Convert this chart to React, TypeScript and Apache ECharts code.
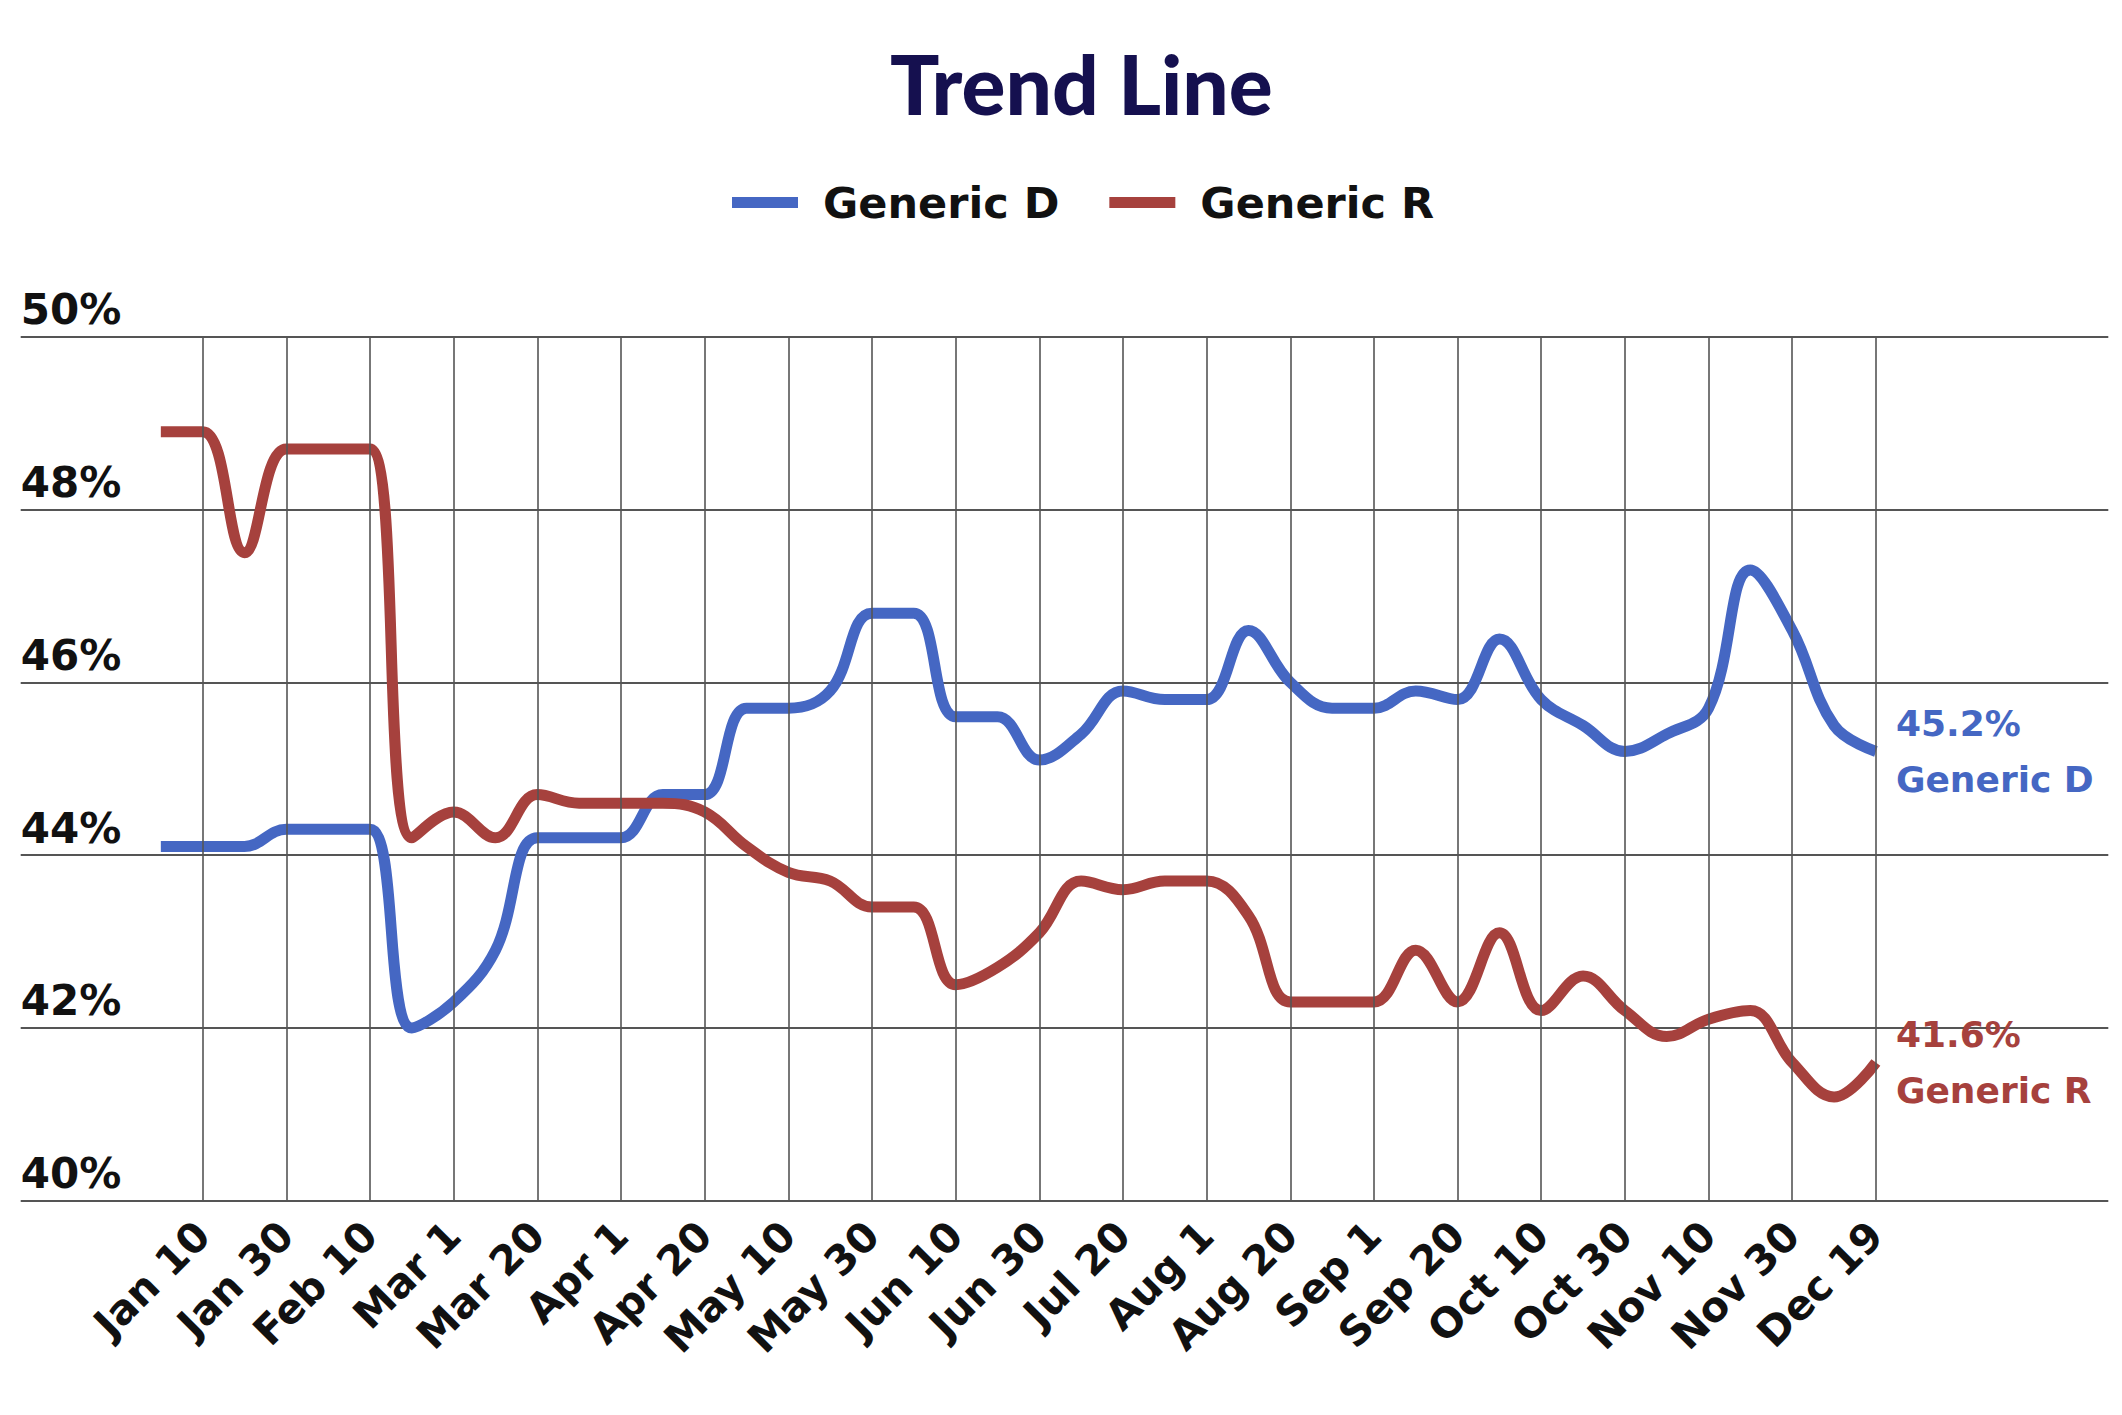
import { useEffect, useRef } from "react";
import * as echarts from "echarts";

const tickLabels = [
  "Jan 10", "Jan 30", "Feb 10", "Mar 1", "Mar 20", "Apr 1", "Apr 20",
  "May 10", "May 30", "Jun 10", "Jun 30", "Jul 20", "Aug 1", "Aug 20",
  "Sep 1", "Sep 20", "Oct 10", "Oct 30", "Nov 10", "Nov 30", "Dec 19",
];
const tickPositions = [0, 1, 2, 3, 4, 5, 6, 7, 8, 9, 10, 11, 12, 13, 14, 15, 16, 17, 18, 19, 20];

const samplePositions = [
  -0.5, 0, 0.5, 1, 1.5, 2, 2.5, 3, 3.5, 4, 4.5, 5, 5.5, 6, 6.5, 7, 7.5, 8, 8.5, 9, 9.5,
  10, 10.5, 11, 11.5, 12, 12.5, 13, 13.5, 14, 14.5, 15, 15.5, 16, 16.5, 17, 17.5, 18, 18.5, 19, 19.5, 20,
];

const genericD = [
  44.1, 44.1, 44.1, 44.3, 44.3, 44.3, 42.0, 42.3, 42.9, 44.2, 44.2, 44.2, 44.7, 44.7, 45.7, 45.7, 45.9, 46.8, 46.8, 45.6, 45.6,
  45.1, 45.4, 45.9, 45.8, 45.8, 46.6, 46.0, 45.7, 45.7, 45.9, 45.8, 46.5, 45.8, 45.5, 45.2, 45.4, 45.7, 47.3, 46.6, 45.5, 45.2,
];

const genericR = [
  48.9, 48.9, 47.5, 48.7, 48.7, 48.7, 44.2, 44.5, 44.2, 44.7, 44.6, 44.6, 44.6, 44.5, 44.1, 43.8, 43.7, 43.4, 43.4, 42.5, 42.7,
  43.1, 43.7, 43.6, 43.7, 43.7, 43.3, 42.3, 42.3, 42.3, 42.9, 42.3, 43.1, 42.2, 42.6, 42.2, 41.9, 42.1, 42.2, 41.6, 41.2, 41.6,
];

const yMin = 40;
const yMax = 50;
const yStep = 2;

const BLUE = "#4567c3";
const RED = "#a6413d";
const FONT = "DejaVu Sans";
const GRID_COLOR = "#555555";

export default function App() {
  const ref = useRef<HTMLDivElement>(null);

  useEffect(() => {
    const chart = echarts.init(ref.current!, null, { renderer: "svg" });
    const endLabel = (color: string) => ({
      show: true,
      formatter: (p: any) => `${p.value[1]}%\n${p.seriesName}`,
      color,
      fontFamily: FONT,
      fontWeight: "bold",
      fontSize: 36,
      lineHeight: 56,
      distance: 20,
      align: "left",
      verticalAlign: "middle",
    });
    chart.setOption({
      animation: false,
      backgroundColor: "#ffffff",
      title: {
        text: "Trend Line",
        left: 890,
        top: 42,
        padding: 0,
        textStyle: { fontFamily: "Lato", fontWeight: 900, fontSize: 82, color: "#15104f" },
      },
      legend: {
        data: ["Generic D", "Generic R"],
        left: 732,
        top: 181,
        padding: 0,
        icon: "rect",
        itemWidth: 66,
        itemHeight: 11,
        itemGap: 50,
        textStyle: {
          fontFamily: FONT,
          fontWeight: "bold",
          fontSize: 43,
          color: "#111111",
          padding: [0, 0, 0, 20],
        },
      },
      grid: { left: 20.7, right: 13.7, top: 336.7, bottom: 214.3 },
      xAxis: {
        type: "value",
        min: -2.175,
        max: 22.778,
        axisLine: { show: false },
        axisTick: { show: false },
        splitLine: { show: false },
        axisLabel: {
          customValues: tickPositions,
          formatter: (v: number) => tickLabels[Math.round(v)] ?? "",
          rotate: 45,
          margin: 28,
          fontFamily: FONT,
          fontWeight: "bold",
          fontSize: 41,
          color: "#111111",
        },
      },
      yAxis: {
        type: "value",
        min: yMin,
        max: yMax,
        interval: yStep,
        axisLine: { show: false },
        axisTick: { show: false },
        splitLine: { show: true, lineStyle: { color: GRID_COLOR, width: 2 } },
        axisLabel: {
          inside: true,
          margin: 0,
          verticalAlign: "bottom",
          padding: [0, 0, 6, 0],
          formatter: "{value}%",
          fontFamily: FONT,
          fontWeight: "bold",
          fontSize: 42,
          color: "#111111",
        },
      },
      series: [
        {
          name: "verticals",
          type: "line",
          data: [],
          silent: true,
          z: 1,
          markLine: {
            silent: true,
            symbol: "none",
            label: { show: false },
            lineStyle: { color: GRID_COLOR, width: 1.6, type: "solid" },
            data: tickPositions.map((p) => ({ xAxis: p })),
          },
        },
        {
          name: "Generic D",
          type: "line",
          data: samplePositions.map((x, i) => [x, genericD[i]]),
          smooth: 0.4,
          showSymbol: false,
          symbol: "none",
          z: 3,
          lineStyle: { width: 11, color: BLUE },
          itemStyle: { color: BLUE },
          endLabel: endLabel(BLUE),
        },
        {
          name: "Generic R",
          type: "line",
          data: samplePositions.map((x, i) => [x, genericR[i]]),
          smooth: 0.4,
          showSymbol: false,
          symbol: "none",
          z: 3,
          lineStyle: { width: 11, color: RED },
          itemStyle: { color: RED },
          endLabel: endLabel(RED),
        },
      ],
    });
    return () => chart.dispose();
  }, []);

  return (
    <div
      ref={ref}
      style={{ position: "absolute", left: 0, top: 0, width: 2122, height: 1415, background: "#ffffff" }}
    />
  );
}
